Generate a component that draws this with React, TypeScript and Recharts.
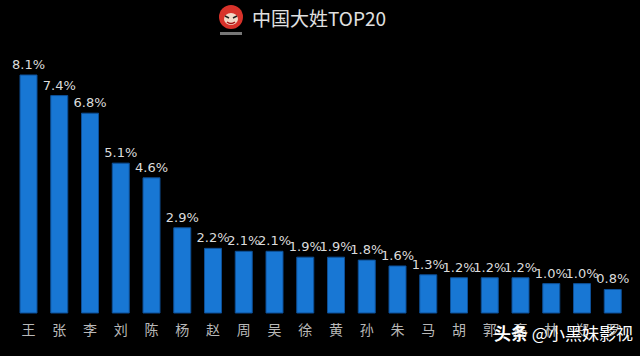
import { BarChart, Bar, XAxis, YAxis, LabelList } from "recharts";

const surnames = ["王", "张", "李", "刘", "陈", "杨", "赵", "周", "吴", "徐", "黄", "孙", "朱", "马", "胡", "郭", "高", "林", "郑", "罗"];
const shares = [8.1, 7.4, 6.8, 5.1, 4.6, 2.9, 2.2, 2.1, 2.1, 1.9, 1.9, 1.8, 1.6, 1.3, 1.2, 1.2, 1.2, 1.0, 1.0, 0.8];

const data = surnames.map((name, i) => ({ name, share: shares[i] }));

const font = "'Noto Sans CJK SC', 'DejaVu Sans', sans-serif";

export default function App() {
    return (
        <div style={{ position: "absolute", left: 0, top: 0, width: 640, height: 356, background: "#000", overflow: "hidden", fontFamily: font }}>
            {/* logo + title */}
            <svg width={30} height={34} style={{ position: "absolute", left: 216, top: 3 }}>
                <circle cx={15} cy={14} r={12} fill="#d8322a" />
                <ellipse cx={15} cy={16} rx={7} ry={6} fill="#f3d9c8" />
                <path d="M9 13 L13 15 M21 13 L17 15" stroke="#222" strokeWidth={1.5} />
                <path d="M11 19 Q15 22 19 19" stroke="#a01010" strokeWidth={1.5} fill="none" />
                <rect x={4} y={29} width={22} height={3} fill="#777" />
            </svg>
            <div style={{ position: "absolute", left: 252, top: 6, color: "#e0e0e0", fontSize: 19, lineHeight: "24px", whiteSpace: "nowrap" }}>
                中国大姓TOP20
            </div>
            <BarChart width={640} height={356} data={data} margin={{ top: 75, right: 12, bottom: 13, left: 13 }}>
                <XAxis
                    dataKey="name"
                    axisLine={false}
                    tickLine={false}
                    interval={0}
                    height={30}
                    tickMargin={6}
                    tick={{ fill: "#b8b8b8", fontSize: 14, fontFamily: font }}
                />
                <YAxis hide domain={[0, 8.1]} />
                <Bar dataKey="share" fill="#1877d4" stroke="#0d4f96" strokeWidth={1} barSize={17} isAnimationActive={false}>
                    <LabelList
                        dataKey="share"
                        position="top"
                        offset={6}
                        formatter={(v: number) => v.toFixed(1) + "%"}
                        style={{ fill: "#dcdcdc", fontSize: 13, fontFamily: "'DejaVu Sans', sans-serif" }}
                    />
                </Bar>
            </BarChart>
            <div style={{ position: "absolute", left: 494, top: 322, color: "#fff", fontSize: 17, lineHeight: "22px", whiteSpace: "nowrap" }}>
                <b>头条</b> @小黑妹影视
            </div>
        </div>
    );
}
